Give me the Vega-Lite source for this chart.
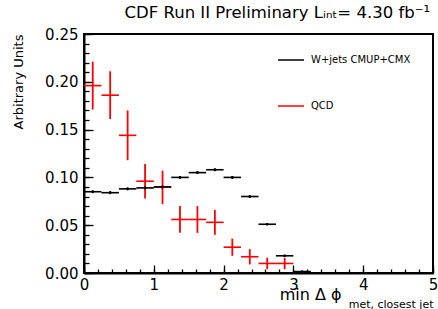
{
  "$schema": "https://vega.github.io/schema/vega-lite/v6.json",
  "autosize": "none",
  "width": 349,
  "height": 239,
  "padding": {"left": 84, "top": 34, "right": 5, "bottom": 36},
  "background": "white",
  "title": {
    "text": "CDF Run II Preliminary Lᵢₙₜ= 4.30 fb⁻¹",
    "anchor": "end",
    "frame": "group",
    "font": "DejaVu Sans",
    "fontSize": 16.5,
    "fontWeight": "normal",
    "color": "black",
    "baseline": "alphabetic",
    "offset": -7,
    "dx": -3
  },
  "config": {
    "view": {"stroke": "black", "strokeWidth": 2},
    "axis": {
      "labelFont": "DejaVu Sans",
      "labelFontSize": 15,
      "labelColor": "black",
      "domainColor": "black",
      "domainWidth": 2,
      "tickColor": "black",
      "tickWidth": 1.3,
      "grid": false,
      "labelOverlap": false,
      "labelFlush": false,
      "labelBound": false,
      "titleFont": "DejaVu Sans",
      "titleFontWeight": "normal",
      "titleColor": "black"
    }
  },
  "data": {
    "values": [
      {"s": "QCD", "x0": 0.0, "x1": 0.25, "xc": 0.125, "y": 0.196, "lo": 0.171, "hi": 0.221},
      {"s": "QCD", "x0": 0.25, "x1": 0.5, "xc": 0.375, "y": 0.186, "lo": 0.161, "hi": 0.211},
      {"s": "QCD", "x0": 0.5, "x1": 0.75, "xc": 0.625, "y": 0.144, "lo": 0.118, "hi": 0.170},
      {"s": "QCD", "x0": 0.75, "x1": 1.0, "xc": 0.875, "y": 0.096, "lo": 0.078, "hi": 0.114},
      {"s": "QCD", "x0": 1.0, "x1": 1.25, "xc": 1.125, "y": 0.090, "lo": 0.072, "hi": 0.107},
      {"s": "QCD", "x0": 1.25, "x1": 1.5, "xc": 1.375, "y": 0.056, "lo": 0.042, "hi": 0.070},
      {"s": "QCD", "x0": 1.5, "x1": 1.75, "xc": 1.625, "y": 0.056, "lo": 0.042, "hi": 0.070},
      {"s": "QCD", "x0": 1.75, "x1": 2.0, "xc": 1.875, "y": 0.053, "lo": 0.040, "hi": 0.066},
      {"s": "QCD", "x0": 2.0, "x1": 2.25, "xc": 2.125, "y": 0.027, "lo": 0.018, "hi": 0.036},
      {"s": "QCD", "x0": 2.25, "x1": 2.5, "xc": 2.375, "y": 0.017, "lo": 0.009, "hi": 0.025},
      {"s": "QCD", "x0": 2.5, "x1": 2.75, "xc": 2.625, "y": 0.010, "lo": 0.004, "hi": 0.016},
      {"s": "QCD", "x0": 2.75, "x1": 3.0, "xc": 2.875, "y": 0.010, "lo": 0.004, "hi": 0.016},
      {"s": "W+jets CMUP+CMX", "x0": 0.0, "x1": 0.25, "xc": 0.125, "y": 0.085, "lo": 0.0835, "hi": 0.0865},
      {"s": "W+jets CMUP+CMX", "x0": 0.25, "x1": 0.5, "xc": 0.375, "y": 0.084, "lo": 0.0825, "hi": 0.0855},
      {"s": "W+jets CMUP+CMX", "x0": 0.5, "x1": 0.75, "xc": 0.625, "y": 0.088, "lo": 0.0865, "hi": 0.0895},
      {"s": "W+jets CMUP+CMX", "x0": 0.75, "x1": 1.0, "xc": 0.875, "y": 0.089, "lo": 0.0875, "hi": 0.0905},
      {"s": "W+jets CMUP+CMX", "x0": 1.0, "x1": 1.25, "xc": 1.125, "y": 0.090, "lo": 0.0885, "hi": 0.0915},
      {"s": "W+jets CMUP+CMX", "x0": 1.25, "x1": 1.5, "xc": 1.375, "y": 0.100, "lo": 0.0985, "hi": 0.1015},
      {"s": "W+jets CMUP+CMX", "x0": 1.5, "x1": 1.75, "xc": 1.625, "y": 0.105, "lo": 0.1035, "hi": 0.1065},
      {"s": "W+jets CMUP+CMX", "x0": 1.75, "x1": 2.0, "xc": 1.875, "y": 0.108, "lo": 0.1065, "hi": 0.1095},
      {"s": "W+jets CMUP+CMX", "x0": 2.0, "x1": 2.25, "xc": 2.125, "y": 0.100, "lo": 0.0985, "hi": 0.1015},
      {"s": "W+jets CMUP+CMX", "x0": 2.25, "x1": 2.5, "xc": 2.375, "y": 0.080, "lo": 0.0785, "hi": 0.0815},
      {"s": "W+jets CMUP+CMX", "x0": 2.5, "x1": 2.75, "xc": 2.625, "y": 0.051, "lo": 0.050, "hi": 0.052},
      {"s": "W+jets CMUP+CMX", "x0": 2.75, "x1": 3.0, "xc": 2.875, "y": 0.018, "lo": 0.017, "hi": 0.019},
      {"s": "W+jets CMUP+CMX", "x0": 3.0, "x1": 3.25, "xc": 3.125, "y": 0.0015, "lo": 0.001, "hi": 0.002}
    ]
  },
  "resolve": {"scale": {"x": "shared", "y": "shared"}, "axis": {"x": "independent", "y": "independent"}},
  "layer": [
    {
      "mark": {"type": "rule", "strokeWidth": 1.6},
      "encoding": {
        "x": {
          "field": "x0", "type": "quantitative",
          "scale": {"domain": [0, 5], "nice": false, "zero": false},
          "axis": {
            "orient": "bottom",
            "values": [0, 1, 2, 3, 4, 5],
            "format": "d",
            "tickSize": -8,
            "labelPadding": 12,
            "title": "min Δ ϕ",
            "titleFontSize": 16,
            "titleAnchor": "end",
            "titleAlign": "right",
            "titleBaseline": "alphabetic",
            "titleX": 257,
            "titleY": 26
          }
        },
        "x2": {"field": "x1"},
        "y": {
          "field": "y", "type": "quantitative",
          "scale": {"domain": [0, 0.25], "nice": false, "zero": true},
          "axis": {
            "orient": "left",
            "values": [0, 0.05, 0.1, 0.15, 0.2, 0.25],
            "format": ".2f",
            "tickSize": -9,
            "labelPadding": 15,
            "title": "Arbitrary Units",
            "titleFontSize": 13,
            "titleAnchor": "end",
            "titleAngle": -90,
            "titleAlign": "right",
            "titleBaseline": "alphabetic",
            "titleX": -62,
            "titleY": 0
          }
        },
        "color": {
          "field": "s", "type": "nominal",
          "scale": {"domain": ["W+jets CMUP+CMX", "QCD"], "range": ["black", "#ff0000"]},
          "legend": {
            "orient": "none",
            "legendX": 193,
            "legendY": 12,
            "symbolType": "stroke",
            "symbolSize": 676,
            "symbolStrokeWidth": 1.5,
            "labelFont": "DejaVu Sans",
            "labelFontSize": 10,
            "labelColor": "black",
            "labelOffset": 6,
            "rowPadding": 27,
            "padding": 0,
            "title": null
          }
        }
      }
    },
    {
      "mark": {"type": "rule", "strokeWidth": 1.8},
      "encoding": {
        "x": {"field": "xc", "type": "quantitative", "axis": null},
        "y": {"field": "lo", "type": "quantitative", "axis": null},
        "y2": {"field": "hi"},
        "color": {"field": "s", "type": "nominal"}
      }
    },
    {
      "transform": [{"filter": "datum.s === 'W+jets CMUP+CMX'"}],
      "mark": {"type": "point", "filled": true, "size": 7, "color": "black", "opacity": 1},
      "encoding": {
        "x": {"field": "xc", "type": "quantitative", "axis": null},
        "y": {"field": "y", "type": "quantitative", "axis": null}
      }
    },
    {
      "mark": {"type": "point", "opacity": 0},
      "encoding": {
        "x": {
          "field": "xc", "type": "quantitative",
          "axis": {
            "orient": "bottom",
            "values": [0, 0.2, 0.4, 0.6, 0.8, 1, 1.2, 1.4, 1.6, 1.8, 2, 2.2, 2.4, 2.6, 2.8, 3, 3.2, 3.4, 3.6, 3.8, 4, 4.2, 4.4, 4.6, 4.8, 5],
            "tickSize": -4,
            "labels": false,
            "domain": false,
            "title": "met, closest jet",
            "titleFontSize": 11,
            "titleAnchor": "end",
            "titleAlign": "right",
            "titleBaseline": "alphabetic",
            "titleX": 349,
            "titleY": 34
          }
        },
        "y": {
          "field": "y", "type": "quantitative",
          "axis": {
            "orient": "left",
            "values": [0, 0.01, 0.02, 0.03, 0.04, 0.05, 0.06, 0.07, 0.08, 0.09, 0.1, 0.11, 0.12, 0.13, 0.14, 0.15, 0.16, 0.17, 0.18, 0.19, 0.2, 0.21, 0.22, 0.23, 0.24, 0.25],
            "tickSize": -5,
            "labels": false,
            "domain": false,
            "title": null
          }
        }
      }
    }
  ]
}
